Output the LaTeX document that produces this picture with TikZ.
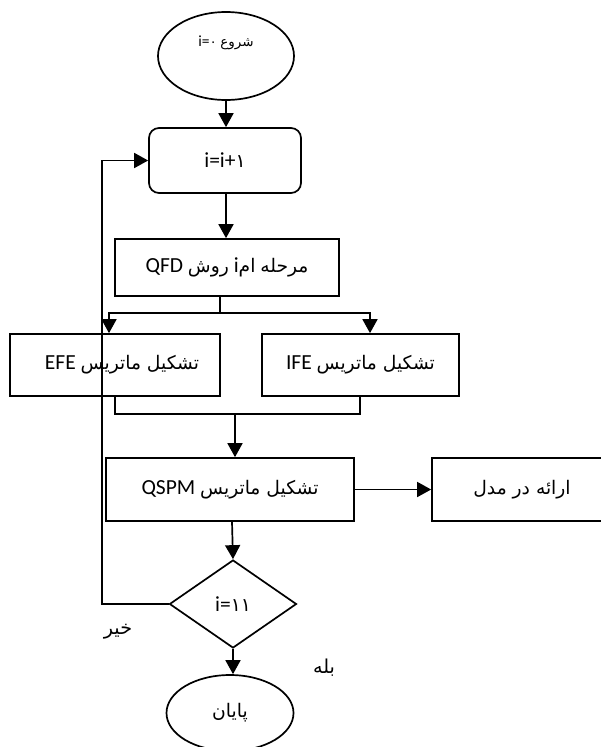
\documentclass[tikz,border=0pt]{standalone}
\usepackage{fontspec}
\setmainfont{Carlito}
\newfontfamily\fa[Script=Arabic,Scale=0.87]{DejaVu Sans}
\TeXXeTstate=1
\usetikzlibrary{arrows.meta,shapes.geometric}
\newcommand{\fatext}[1]{{\fa\beginR #1\endR}}
\tikzset{
  lw/.style={line width=1.7pt},
  shp/.style={draw, lw, inner sep=0pt, font=\fontsize{21.5}{24}\selectfont, align=center},
  boxn/.style={shp, rectangle},
  arr/.style={lw, -{Triangle[length=14pt,width=15pt]}},
  lab/.style={font=\fontsize{22}{25}\selectfont, inner sep=0pt},
}
\begin{document}
\begin{tikzpicture}[x=1pt,y=-1pt]
\useasboundingbox (0,0) rectangle (601,747);
\clip (0,0) rectangle (601,747);
% nodes
\node[shp, ellipse, minimum width=136pt, minimum height=88pt,
      text height=12pt, text depth=32pt, font=\fontsize{15.5}{18}\selectfont] (start) at (226,56)
      {i=\fatext{۰} \fatext{شروع}};
\node[boxn, rounded corners=10pt, minimum width=152pt, minimum height=65pt] (inc) at (225,160.5)
      {i=i+\fatext{۱}};
\node[boxn, minimum width=224pt, minimum height=57pt] (qfd) at (227,267.5)
      {QFD \fatext{روش} i\fatext{ام} \fatext{مرحله}};
\node[boxn, minimum width=210pt, minimum height=62pt] (efe) at (115,365)
      {\hspace*{14pt}EFE \fatext{تشکیل ماتریس}};
\node[boxn, minimum width=197pt, minimum height=62pt] (ife) at (360.5,365)
      {IFE \fatext{تشکیل ماتریس}};
\node[boxn, minimum width=248pt, minimum height=63pt] (qspm) at (230,489.5)
      {QSPM \fatext{تشکیل ماتریس}};
\node[boxn, minimum width=180pt, minimum height=63pt] (out) at (522,489.5)
      {\fatext{ارائه در مدل}};
\node[shp, diamond, aspect=1.44, minimum width=127pt, minimum height=88pt] (dia) at (233,604)
      {i=\fatext{۱۱}};
\node[shp, ellipse, minimum width=127pt, minimum height=76pt] (fin) at (230,713)
      {\fatext{پایان}};
\node[lab] (no) at (118,632) {\fatext{خیر}};
\node[lab] (yes) at (324,668) {\fatext{بله}};
% coordinates
\coordinate (split) at (220,313);
\coordinate (merge) at (235,414);
\coordinate (loop) at (102,604);
% connectors
\draw[arr] (start.south) -- (start.south |- inc.north);
\draw[arr] ([xshift=1pt]inc.south) -- ([xshift=1pt]inc.south |- qfd.north);
\draw[lw] (split |- qfd.south) -- (split);
\draw[arr] (split) -| ([xshift=-6pt]efe.north);
\draw[arr] (split) -| ([xshift=9.5pt]ife.north);
\draw[lw] (efe.south) |- (merge) -| ([xshift=-0.5pt]ife.south);
\draw[arr] (merge) -- (merge |- qspm.north);
\draw[arr] (qspm.east) -- (out.west);
\draw[arr] ([xshift=2pt]qspm.south) -- (dia.north);
\draw[arr] (dia.south) -- (dia.south |- fin.north);
\draw[arr] (dia.west) -- (loop) |- (inc.west);
\end{tikzpicture}
\end{document}
